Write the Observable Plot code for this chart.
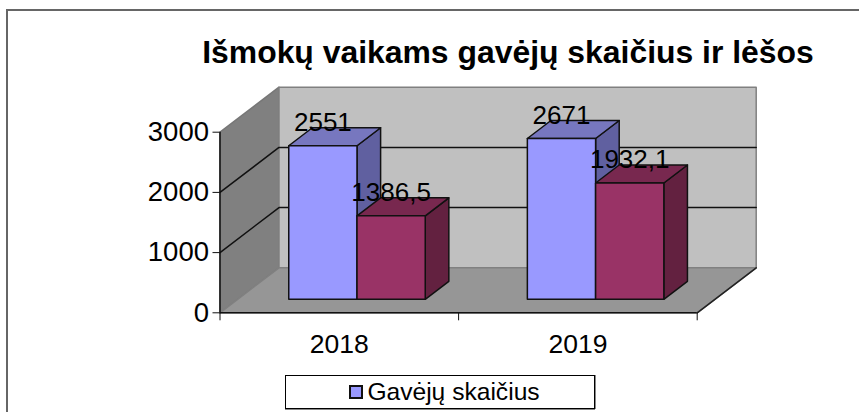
<!DOCTYPE html>
<html lang="lt">
<head>
<meta charset="utf-8">
<script src="https://cdn.jsdelivr.net/npm/d3@7"></script>
<script src="https://cdn.jsdelivr.net/npm/@observablehq/plot@0.6"></script>
<style>
  html, body { margin: 0; padding: 0; background: #fff; overflow: hidden; }
  body { width: 859px; height: 412px; position: relative; font-family: "Liberation Sans", Arial, sans-serif; color: #000; }
  #frame { position: absolute; left: 6px; top: 9px; width: 900px; height: 450px; border: 2px solid #666; box-sizing: border-box; }
  #title { position: absolute; left: 0; top: 35px; width: 1016px; text-align: center; font-weight: bold; font-size: 31.9px; line-height: 34px; white-space: nowrap; }
  #chart { position: absolute; left: 0; top: 78px; }
  #chart svg { display: block; background: transparent; }
  #legend { position: absolute; left: 285px; top: 375px; width: 310px; height: 34px; box-sizing: border-box; border: 1px solid #000; box-shadow: 0 1px 0 #888, 1px 0 0 #888; background: #fff; display: flex; align-items: center; justify-content: center; font-size: 24.6px; gap: 4px; padding-left: 9px; }
  #legend i { display: inline-block; width: 14px; height: 14px; border: 2px solid #111; background: #9999ff; box-sizing: border-box; }
</style>
</head>
<body>
<div id="frame"></div>
<div id="title">Išmokų vaikams gavėjų skaičius ir lėšos</div>
<div id="chart"></div>
<div id="legend"><i></i><span>Gavėjų skaičius</span></div>
<script>
// Data
const categories = ["2018", "2019"];
const recipients = [2551, 2671];
const funds = [1386.5, 1932.1];
const fundLabels = ["1386,5", "1932,1"];
const valueTicks = [0, 1000, 2000, 3000];

// Oblique projection of the 3-D box onto the 2-D scales
const depthX = 0.2473;   // category units at full depth
const depthY = 747.5;    // value units at full depth
const maxV = 3000, nCat = 2;
const barW = 0.286, frontD = 0.3, backD = 0.7;
const px = (c, d) => c + d * depthX;
const py = (v, d) => v + d * depthY;

const polys = [];
let pid = 0;
function poly(points, fill, stroke, strokeWidth) {
  const id = pid++;
  for (const [c, v, d] of [...points, points[0]]) {
    polys.push({id, x: px(c, d), y: py(v, d), fill, stroke});
  }
}
// walls
poly([[0,0,0],[0,0,1],[0,maxV,1],[0,maxV,0]], "#808080", "#777777");
poly([[0,0,1],[nCat,0,1],[nCat,maxV,1],[0,maxV,1]], "#c0c0c0", "#808080");
poly([[0,0,0],[nCat,0,0],[nCat,0,1],[0,0,1]], "#969696", "#808080");

// gridlines
const grid = [];
valueTicks.slice(1, 3).forEach(v => {
  grid.push({g: v, x: px(0,0), y: py(v,0)}, {g: v, x: px(0,1), y: py(v,1)}, {g: v, x: px(nCat,1), y: py(v,1)});
});

// bars
function bar(c0, v, colors) {
  const c1 = c0 + barW, s = "#111";
  poly([[c1,0,frontD],[c1,0,backD],[c1,v,backD],[c1,v,frontD]], colors.side, s);
  poly([[c0,v,frontD],[c1,v,frontD],[c1,v,backD],[c0,v,backD]], colors.top, s);
  poly([[c0,0,frontD],[c1,0,frontD],[c1,v,frontD],[c0,v,frontD]], colors.front, s);
}
const blue = {front: "#9999ff", top: "#7777bf", side: "#6060a0"};
const red = {front: "#993366", top: "#78284f", side: "#632140"};
const labels = [];
categories.forEach((cat, i) => {
  const start = i + 0.5 - barW;
  bar(start, recipients[i], blue);
  bar(start + barW, funds[i], red);
  labels.push({t: String(recipients[i]), x: px(start + barW / 2, frontD), y: py(recipients[i], frontD)});
  labels.push({t: fundLabels[i], x: px(start + 1.5 * barW, frontD), y: py(funds[i], frontD)});
});

const fs = 26.5;
const chart = Plot.plot({
  width: 859,
  height: 287,
  marginLeft: 219.5,
  marginRight: 103.3,
  marginTop: 8.7,
  marginBottom: 52.7,
  x: {domain: [0, nCat + depthX]},
  y: {domain: [0, maxV + depthY]},
  style: {fontFamily: "'Liberation Sans', Arial, sans-serif", color: "#000", background: "transparent"},
  marks: [
    Plot.line(polys.slice(0, 15), {x: "x", y: "y", z: "id", fill: "fill", stroke: "stroke", strokeWidth: 1.5}),
    Plot.line(grid, {x: "x", y: "y", z: "g", stroke: "#111", strokeWidth: 1.5}),
    Plot.line(polys.slice(15), {x: "x", y: "y", z: "id", fill: "fill", stroke: "stroke", strokeWidth: 1.5, strokeLinejoin: "round"}),
    Plot.ruleY([0], {x1: 0, x2: nCat, stroke: "#111", strokeWidth: 1.5}),
    Plot.ruleX([0], {y1: 0, y2: maxV, stroke: "#111", strokeWidth: 1.5}),
    Plot.line([{x: nCat, y: 0}, {x: nCat + depthX, y: depthY}], {x: "x", y: "y", stroke: "#222", strokeWidth: 1.5}),
    Plot.axisY({ticks: valueTicks, tickSize: 7, tickPadding: 4, tickFormat: "d", fontSize: 27.5, stroke: "#111", strokeOpacity: 1, label: null}),
    Plot.axisX({ticks: [0, 1, 2], tickSize: 8, tickFormat: () => "", stroke: "#111", strokeOpacity: 1, label: null}),
    Plot.axisX({ticks: [0.5, 1.5], tickSize: 0, tickPadding: 21, tickFormat: (d, i) => categories[i], fontSize: fs, label: null}),
    Plot.text(labels, {x: "x", y: "y", text: "t", fontSize: 26, lineAnchor: "bottom", dy: -15, fill: "#000"})
  ]
});
document.getElementById("chart").append(chart);
</script>
</body>
</html>
